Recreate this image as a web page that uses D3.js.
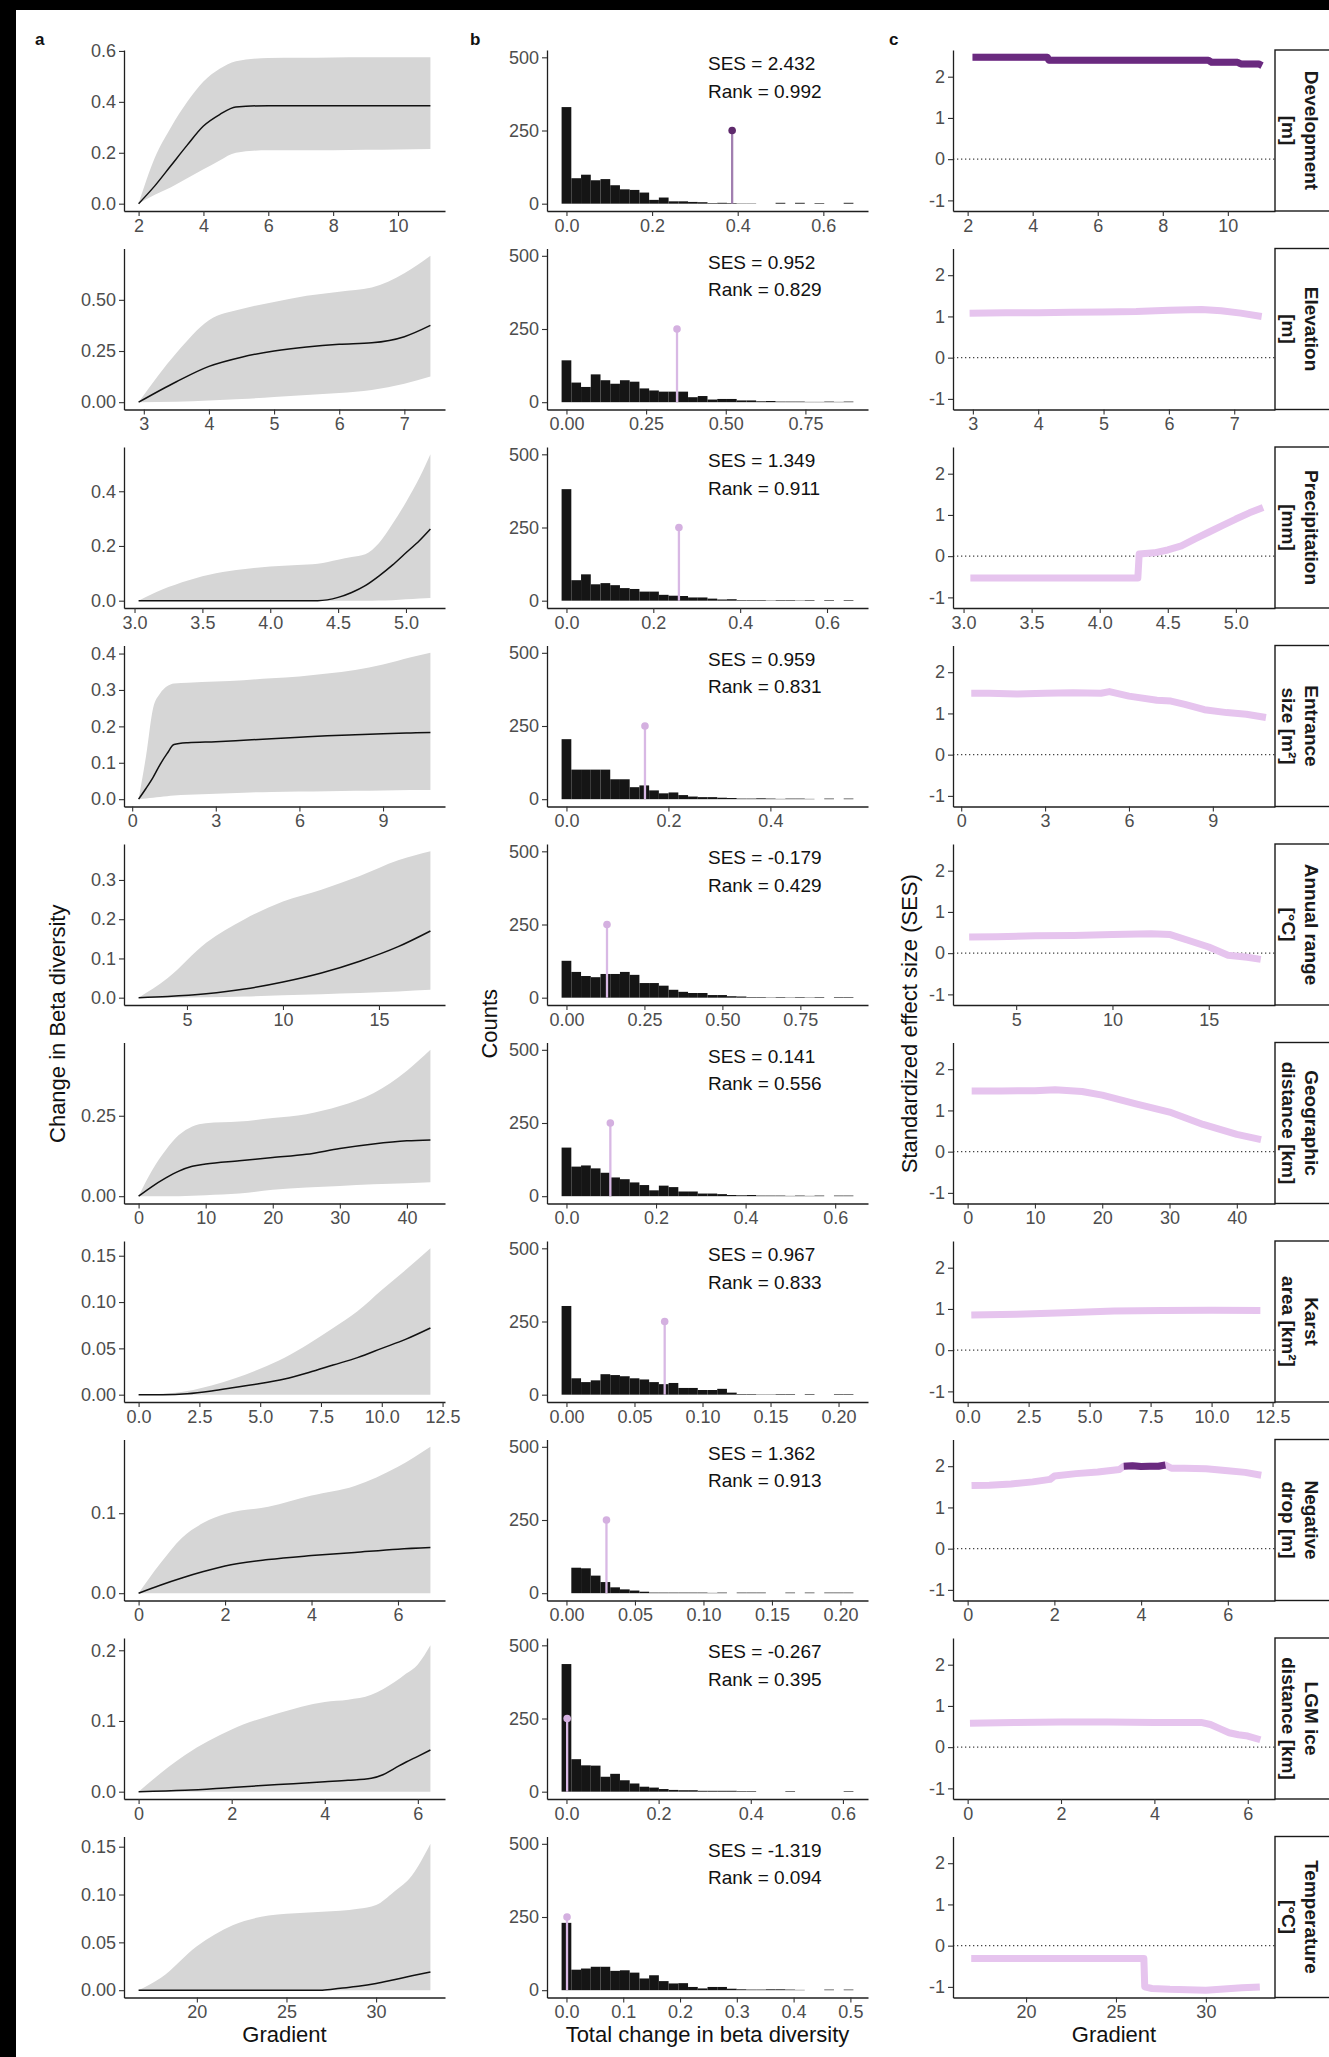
<!DOCTYPE html>
<html><head><meta charset="utf-8">
<script src="https://cdn.jsdelivr.net/npm/d3@7"></script>
<style>
html,body{margin:0;padding:0;background:#fff;}
svg{display:block;}
</style></head><body>
<svg id="fig" width="1329" height="2057"></svg>
<script>
// ---------- data ----------
const stripLabels = [
  ["Development","[m]"],["Elevation","[m]"],["Precipitation","[mm]"],["Entrance","size [m²]"],
  ["Annual range","[°C]"],["Geographic","distance [km]"],["Karst","area [km²]"],["Negative","drop [m]"],
  ["LGM ice","distance [km]"],["Temperature","[°C]"]
];

// column a: change in beta diversity along each gradient (mean and interval)
const meanX = [
  [2.0,2.5,3.0,3.5,4.0,4.5,5.0,6.0,7.0,8.0,9.0,10.0,11.0],
  [2.92,3.5,4.0,4.5,5.0,5.5,6.0,6.5,7.0,7.4],
  [3.03,3.2,3.4,3.6,3.8,4.0,4.2,4.35,4.5,4.6,4.7,4.8,4.9,5.0,5.1,5.18],
  [0.23,0.5,0.75,1.0,1.25,1.5,2,3,4,5,6,7,8,9,10,10.7],
  [2.48,4,6,8,10,12,14,16,17.68],
  [0,2,4,6,8,10,15,20,25,30,35,40,43.5],
  [0,1,2,3,4,5,6,7,8,9,10,11,12],
  [0,0.5,1,1.5,2,3,4,5,6,6.75],
  [0,1,2,3,4,4.5,5,5.25,5.5,5.75,6,6.27],
  [16.75,18,20,22,24,26,27,28,29,30,31,32,33.03]
];
const meanY = [
  [0,0.07,0.15,0.23,0.305,0.35,0.38,0.385,0.385,0.385,0.385,0.385,0.385],
  [0,0.10,0.175,0.22,0.25,0.27,0.283,0.29,0.32,0.375],
  [0,0,0,0,0,0,0,0,0.012,0.03,0.055,0.09,0.13,0.175,0.22,0.262],
  [0,0.03,0.06,0.095,0.125,0.15,0.155,0.158,0.162,0.166,0.17,0.174,0.177,0.18,0.182,0.183],
  [0,0.003,0.01,0.022,0.04,0.063,0.093,0.13,0.17],
  [0,0.03,0.056,0.078,0.093,0.1,0.11,0.12,0.13,0.148,0.162,0.172,0.175],
  [0,0,0.001,0.004,0.008,0.012,0.017,0.024,0.032,0.04,0.05,0.06,0.072],
  [0,0.01,0.019,0.027,0.034,0.042,0.047,0.051,0.055,0.057],
  [0,0.002,0.006,0.01,0.014,0.016,0.019,0.024,0.033,0.042,0.05,0.059],
  [0,0,0,0,0,0,0,0.002,0.004,0.007,0.011,0.015,0.019]
];
const ciLow = [
  [0,0.035,0.065,0.10,0.135,0.17,0.20,0.21,0.21,0.21,0.212,0.213,0.215],
  [0,0.002,0.008,0.015,0.025,0.035,0.045,0.06,0.09,0.125],
  [0,0,0,0,0,0,0,0,0,0,0,0.001,0.002,0.005,0.008,0.01],
  [0,0.002,0.004,0.006,0.008,0.01,0.012,0.015,0.018,0.02,0.021,0.022,0.023,0.024,0.025,0.025],
  [0,0,0.001,0.003,0.006,0.009,0.012,0.016,0.02],
  [0,0,0,0,0.001,0.003,0.008,0.02,0.027,0.032,0.037,0.04,0.043],
  [0,0,0,0,0,0,0,0,0,0,0,0,0],
  [0,0,0,0,0,0,0,0,0,0],
  [0,0,0,0,0,0,0,0,0,0,0,0],
  [0,0,0,0,0,0,0,0,0,0,0,0,0]
];
const ciHigh = [
  [0,0.18,0.30,0.40,0.48,0.53,0.56,0.572,0.573,0.574,0.575,0.575,0.575],
  [0,0.24,0.40,0.455,0.49,0.52,0.54,0.56,0.63,0.715],
  [0,0.04,0.075,0.1,0.115,0.125,0.13,0.135,0.15,0.16,0.17,0.21,0.28,0.36,0.45,0.535],
  [0,0.12,0.25,0.29,0.31,0.318,0.32,0.323,0.327,0.332,0.337,0.345,0.355,0.37,0.39,0.402],
  [0,0.05,0.14,0.2,0.245,0.275,0.31,0.35,0.373],
  [0,0.08,0.142,0.19,0.217,0.227,0.232,0.243,0.255,0.28,0.32,0.39,0.455],
  [0,0.001,0.004,0.01,0.018,0.028,0.04,0.055,0.072,0.09,0.113,0.135,0.158],
  [0,0.037,0.069,0.088,0.099,0.108,0.122,0.134,0.158,0.183],
  [0,0.052,0.088,0.111,0.127,0.13,0.137,0.145,0.155,0.167,0.18,0.207],
  [0,0.013,0.046,0.068,0.078,0.081,0.082,0.083,0.085,0.089,0.103,0.12,0.153]
];
const aYTicks = [
  ["0.0","0.2","0.4","0.6"],["0.00","0.25","0.50"],["0.0","0.2","0.4"],["0.0","0.1","0.2","0.3","0.4"],
  ["0.0","0.1","0.2","0.3"],["0.00","0.25"],["0.00","0.05","0.10","0.15"],["0.0","0.1"],
  ["0.0","0.1","0.2"],["0.00","0.05","0.10","0.15"]
];
const gradientTicks = [
  ["2","4","6","8","10"],["3","4","5","6","7"],["3.0","3.5","4.0","4.5","5.0"],["0","3","6","9"],
  ["5","10","15"],["0","10","20","30","40"],["0.0","2.5","5.0","7.5","10.0","12.5"],["0","2","4","6"],
  ["0","2","4","6"],["20","25","30"]
];

// column b: null distributions (30 bins, first bin centred on 0)
const binWidth = [0.02272,0.03053,0.0224,0.01908,0.03119,0.02172,0.00715,0.0071,0.02111,0.01713];
const histCounts = [
  [330,87,99,80,84,63,49,47,38,13,21,8,8,6,5,2,3,2,1,1,0,0,3,0,3,0,2,0,0,3],
  [143,67,52,95,75,63,75,70,47,40,36,36,36,17,21,9,11,11,6,6,3,4,2,2,2,1,1,2,1,2],
  [381,70,90,56,60,53,43,40,31,31,20,17,16,11,11,7,4,5,2,2,2,1,2,2,1,2,0,2,0,2],
  [205,101,101,101,101,68,68,41,47,30,20,23,14,9,7,7,5,4,2,2,3,2,1,2,2,1,0,2,0,2],
  [126,88,74,70,81,81,88,78,50,50,41,27,20,16,16,9,9,5,4,2,2,1,2,1,2,1,2,0,2,2],
  [166,101,105,95,80,64,58,47,38,20,36,31,16,16,9,9,7,4,3,4,2,2,2,1,2,1,2,0,2,2],
  [303,56,43,49,70,67,63,56,52,43,36,40,23,23,16,16,20,7,2,2,1,1,2,2,0,2,0,0,2,2],
  [0,87,85,60,38,20,13,9,5,2,2,2,2,2,2,1,2,0,2,2,2,0,0,2,0,2,0,2,2,2],
  [436,111,90,89,51,61,39,28,17,14,9,6,5,5,3,3,3,3,2,2,0,0,0,2,0,0,0,0,0,2],
  [230,70,74,80,80,66,68,60,40,51,31,23,24,11,6,11,11,5,3,2,2,3,3,2,1,0,0,2,0,2]
];
const observedChange = [0.387,0.347,0.259,0.154,0.130,0.098,0.0722,0.0292,0.0015,0.001];
const markerHeight = 250;
const sesLabel = ["2.432","0.952","1.349","0.959","-0.179","0.141","0.967","1.362","-0.267","-1.319"];
const rankLabel = ["0.992","0.829","0.911","0.831","0.429","0.556","0.833","0.913","0.395","0.094"];
const countTicks = ["0","250","500"];
const bXTicks = [
  ["0.0","0.2","0.4","0.6"],["0.00","0.25","0.50","0.75"],["0.0","0.2","0.4","0.6"],["0.0","0.2","0.4"],
  ["0.00","0.25","0.50","0.75"],["0.0","0.2","0.4","0.6"],["0.00","0.05","0.10","0.15","0.20"],
  ["0.00","0.05","0.10","0.15","0.20"],["0.0","0.2","0.4","0.6"],["0.0","0.1","0.2","0.3","0.4","0.5"]
];

// column c: standardized effect size along each gradient
const sesX = [
  [2.15,4.45,4.5,9.4,9.5,10.3,10.4,10.95,11.05],
  [2.95,3.5,4,4.5,5,5.5,6,6.5,6.8,7.1,7.42],
  [3.05,4.28,4.29,4.4,4.5,4.6,4.7,4.8,4.9,5.0,5.1,5.2],
  [0.36,1,2,3,4,5,5.3,6,7,7.5,8,8.7,9.5,10.2,10.9],
  [2.56,4,6,8,10,12,13,14,15,16,17,17.7],
  [0.6,5,10,13,17,20,25,30,35,40,43.6],
  [0.15,2,4,6,8,10,12.0],
  [0.09,0.5,1.0,1.5,1.9,2.0,2.5,3.0,3.5,3.6,3.8,4.0,4.2,4.4,4.56,4.7,5.0,5.5,6.0,6.4,6.77],
  [0.05,1,2,3,4,5,5.2,5.4,5.6,5.8,6.0,6.27],
  [16.95,20,25,26.55,26.6,27,28,29,30,31,32,33.0]
];
const sesY = [
  [2.47,2.47,2.40,2.40,2.35,2.35,2.31,2.31,2.27],
  [1.08,1.09,1.09,1.1,1.11,1.12,1.15,1.17,1.14,1.08,1.0],
  [-0.53,-0.53,0.05,0.08,0.15,0.25,0.42,0.58,0.74,0.9,1.05,1.18],
  [1.49,1.49,1.47,1.49,1.50,1.49,1.53,1.42,1.32,1.30,1.22,1.09,1.02,0.98,0.90],
  [0.39,0.40,0.42,0.43,0.45,0.47,0.45,0.30,0.15,-0.05,-0.1,-0.15],
  [1.47,1.47,1.48,1.50,1.46,1.37,1.16,0.96,0.66,0.42,0.29],
  [0.85,0.87,0.91,0.95,0.96,0.97,0.96],
  [1.53,1.54,1.57,1.62,1.68,1.76,1.82,1.86,1.92,2.0,2.01,1.99,2.0,2.0,2.03,1.95,1.95,1.94,1.89,1.85,1.78],
  [0.58,0.6,0.61,0.61,0.6,0.6,0.55,0.45,0.35,0.3,0.27,0.18],
  [-0.31,-0.31,-0.31,-0.31,-1.0,-1.04,-1.06,-1.07,-1.08,-1.05,-1.02,-1.0]
];
// gradient ranges where the effect is significant
const sigFrom = [2.0,null,null,null,null,null,null,3.6,null,null];
const sigTo   = [11.1,null,null,null,null,null,null,4.56,null,null];
const sesTicks = ["-1","0","1","2"];

// ---------- layout ----------
const FONT = '"Liberation Sans", Arial, Helvetica, sans-serif';
const W = 1329, H = 2057;
const panelH = 161;
const axisY = r => 211 + 198.5 * r;
const colA = [124, 445], colB = [547, 868], colC = [953, 1275];
const COL_LIGHT = "#e6c4ee", COL_DARK = "#6a2a7f";

const svg = d3.select("#fig").attr("font-family", FONT);

// outer frame bands
svg.append("rect").attr("x",0).attr("y",0).attr("width",W).attr("height",10).attr("fill","#000");
svg.append("rect").attr("x",0).attr("y",0).attr("width",16).attr("height",H).attr("fill","#000");

function expand(lo, hi, f = 0.05) { const r = hi - lo; return [lo - f * r, hi + f * r]; }

function styleAxis(g) {
  g.attr("font-family", FONT).attr("font-size", null);
  g.select(".domain").attr("stroke", "#1f1f1f").attr("stroke-width", 1.3);
  g.selectAll(".tick line").attr("stroke", "#333").attr("stroke-width", 1.1);
  g.selectAll(".tick text").attr("fill", "#4d4d4d").attr("font-size", 18);
}
function bottomAxis(g, scale, labels) {
  g.call(d3.axisBottom(scale).tickValues(labels.map(Number)).tickFormat((d, i) => labels[i])
    .tickSize(5).tickPadding(3).tickSizeOuter(0));
  styleAxis(g);
}
function leftAxis(g, scale, labels) {
  g.call(d3.axisLeft(scale).tickValues(labels.map(Number)).tickFormat((d, i) => labels[i])
    .tickSize(5).tickPadding(3).tickSizeOuter(0));
  styleAxis(g);
}

const allSes = sesY.flat();
const yDomC = expand(d3.min(allSes), d3.max(allSes));

d3.range(10).forEach(r => {
  const A = axisY(r), T = A - panelH;
  const xs = meanX[r];
  const xDom = expand(xs[0], xs[xs.length - 1]);

  // ----- column a -----
  const xa = d3.scaleLinear().domain(xDom).range(colA);
  const ya = d3.scaleLinear().domain(expand(0, d3.max(ciHigh[r]))).range([A, T]);
  const pts = xs.map((x, i) => ({ x, m: meanY[r][i], lo: ciLow[r][i], hi: ciHigh[r][i] }));
  const ga = svg.append("g");
  ga.append("path").datum(pts)
    .attr("d", d3.area().x(d => xa(d.x)).y0(d => ya(d.lo)).y1(d => ya(d.hi)).curve(d3.curveMonotoneX))
    .attr("fill", "#d6d6d6");
  ga.append("path").datum(pts)
    .attr("d", d3.line().x(d => xa(d.x)).y(d => ya(d.m)).curve(d3.curveMonotoneX))
    .attr("fill", "none").attr("stroke", "#111").attr("stroke-width", 1.5);
  bottomAxis(ga.append("g").attr("transform", `translate(0,${A})`), xa, gradientTicks[r]);
  leftAxis(ga.append("g").attr("transform", `translate(${colA[0]},0)`), ya, aYTicks[r]);

  // ----- column b -----
  const w = binWidth[r];
  const xb = d3.scaleLinear().domain([-2 * w, 31 * w]).range(colB);
  const yb = d3.scaleLinear().domain(expand(0, 500)).range([A, T]);
  const bins = histCounts[r].map((c, i) => ({ x0: (i - 0.5) * w, x1: (i + 0.5) * w, c }));
  const gb = svg.append("g");
  gb.selectAll("rect.bar").data(bins.filter(d => d.c > 0)).join("rect").attr("class", "bar")
    .attr("x", d => xb(d.x0)).attr("width", d => xb(d.x1) - xb(d.x0))
    .attr("y", d => yb(d.c)).attr("height", d => yb(0) - yb(d.c))
    .attr("fill", "#151515");
  const sig = r === 0;
  gb.append("line")
    .attr("x1", xb(observedChange[r])).attr("x2", xb(observedChange[r]))
    .attr("y1", yb(0)).attr("y2", yb(markerHeight))
    .attr("stroke", sig ? "#a17fb0" : "#d8b8e4").attr("stroke-width", 2.3);
  gb.append("circle").attr("cx", xb(observedChange[r])).attr("cy", yb(markerHeight)).attr("r", 3.8)
    .attr("fill", sig ? "#5e2a6c" : "#d4b0e0");
  gb.append("text").attr("x", 708).attr("y", A - 141).attr("font-size", 19).attr("fill", "#111")
    .text(`SES = ${sesLabel[r]}`);
  gb.append("text").attr("x", 708).attr("y", A - 113.5).attr("font-size", 19).attr("fill", "#111")
    .text(`Rank = ${rankLabel[r]}`);
  bottomAxis(gb.append("g").attr("transform", `translate(0,${A})`), xb, bXTicks[r]);
  leftAxis(gb.append("g").attr("transform", `translate(${colB[0]},0)`), yb, countTicks);

  // ----- column c -----
  const xc = d3.scaleLinear().domain(xDom).range(colC);
  const yc = d3.scaleLinear().domain(yDomC).range([A, T]);
  const gc = svg.append("g");
  gc.append("line").attr("x1", colC[0]).attr("x2", colC[1]).attr("y1", yc(0)).attr("y2", yc(0))
    .attr("stroke", "#444").attr("stroke-width", 1.3).attr("stroke-dasharray", "1.3,2.7");
  const cp = sesX[r].map((x, i) => ({ x, y: sesY[r][i] }));
  const ln = d3.line().x(d => xc(d.x)).y(d => yc(d.y));
  gc.append("path").datum(cp).attr("d", ln).attr("fill", "none")
    .attr("stroke", COL_LIGHT).attr("stroke-width", 7).attr("stroke-linejoin", "round");
  if (sigFrom[r] !== null) {
    const sp = cp.filter(d => d.x >= sigFrom[r] && d.x <= sigTo[r]);
    gc.append("path").datum(sp).attr("d", ln).attr("fill", "none")
      .attr("stroke", COL_DARK).attr("stroke-width", 7).attr("stroke-linejoin", "round");
  }
  bottomAxis(gc.append("g").attr("transform", `translate(0,${A})`), xc, gradientTicks[r]);
  leftAxis(gc.append("g").attr("transform", `translate(${colC[0]},0)`), yc, sesTicks);

  // facet strip
  gc.append("rect").attr("x", colC[1]).attr("y", T).attr("width", 70).attr("height", panelH)
    .attr("fill", "#fff").attr("stroke", "#1a1a1a").attr("stroke-width", 1.4);
  const st = gc.append("g").attr("transform", `translate(1300,${(A + T) / 2}) rotate(90)`);
  stripLabels[r].forEach((s, i) => {
    st.append("text").attr("x", 0).attr("y", i === 0 ? -11.75 : 11.75)
      .attr("text-anchor", "middle").attr("dominant-baseline", "central")
      .attr("font-size", 19).attr("font-weight", "bold").attr("fill", "#1a1a1a").text(s);
  });
});

// axis titles
const midY = (axisY(0) - panelH + axisY(9)) / 2;
const yTitle = (x, label) => svg.append("text")
  .attr("transform", `translate(${x},${midY}) rotate(-90)`)
  .attr("text-anchor", "middle").attr("font-size", 22).attr("fill", "#111").text(label);
yTitle(65, "Change in Beta diversity");
yTitle(497, "Counts");
yTitle(917, "Standardized effect size (SES)");
const xTitle = (cx, label) => svg.append("text").attr("x", cx).attr("y", 2042)
  .attr("text-anchor", "middle").attr("font-size", 22).attr("fill", "#111").text(label);
xTitle((colA[0] + colA[1]) / 2, "Gradient");
xTitle((colB[0] + colB[1]) / 2, "Total change in beta diversity");
xTitle((colC[0] + colC[1]) / 2, "Gradient");

// panel letters
[["a", 35], ["b", 470], ["c", 889]].forEach(([t, x]) =>
  svg.append("text").attr("x", x).attr("y", 45).attr("font-size", 17).attr("font-weight", "bold")
    .attr("fill", "#111").text(t));
</script>
</body></html>
